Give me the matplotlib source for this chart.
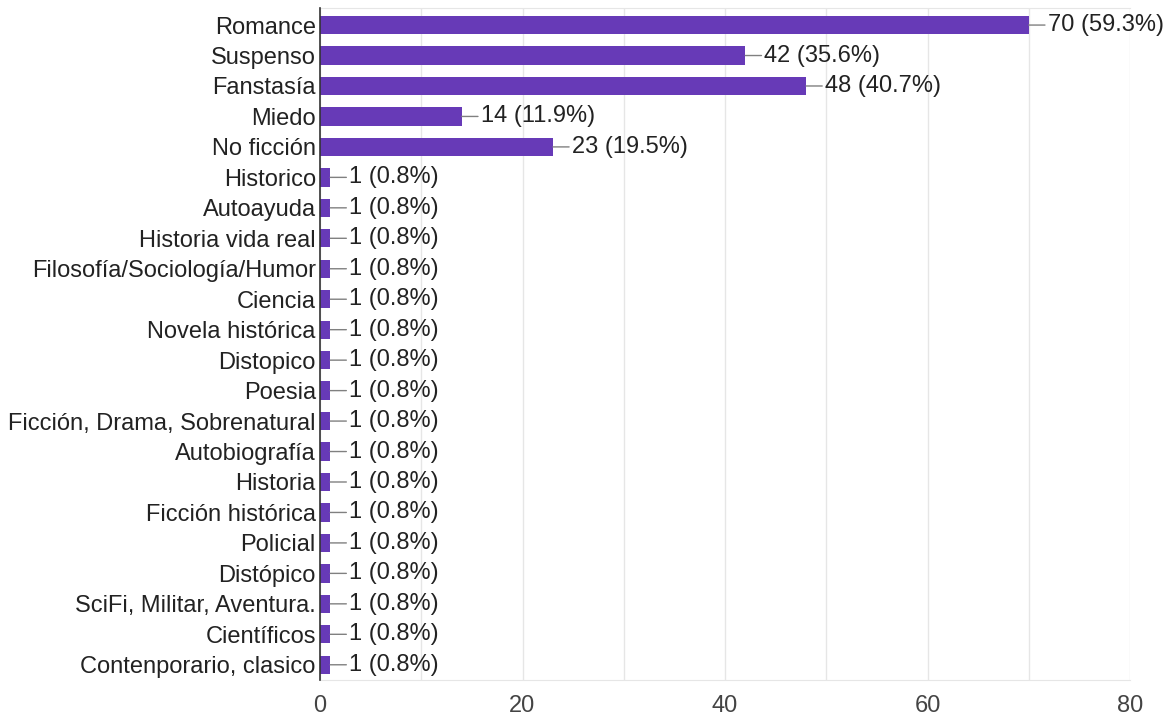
import matplotlib.pyplot as plt
import numpy as np

plt.rcParams['font.family'] = ['Liberation Sans', 'DejaVu Sans']

# genres, top to bottom
generos = ['Romance', 'Suspenso', 'Fanstasía', 'Miedo', 'No ficción',
           'Historico', 'Autoayuda', 'Historia vida real',
           'Filosofía/Sociología/Humor', 'Ciencia', 'Novela histórica',
           'Distopico', 'Poesia', 'Ficción, Drama, Sobrenatural',
           'Autobiografía', 'Historia', 'Ficción histórica', 'Policial',
           'Distópico', 'SciFi, Militar, Aventura.', 'Científicos',
           'Contenporario, clasico']
votos = [70, 42, 48, 14, 23, 1, 1, 1, 1, 1, 1, 1, 1, 1, 1, 1, 1, 1, 1, 1, 1, 1]
porcentajes = ['59.3', '35.6', '40.7', '11.9', '19.5'] + ['0.8'] * 17

fig = plt.figure(figsize=(11.68, 7.19), dpi=100)
ax = fig.add_axes([320 / 1168, 1 - 680 / 719, 810 / 1168, 672 / 719])

y = np.arange(len(generos))
ax.barh(y, votos, height=0.6, color='#673ab7', zorder=3)

for i, (v, p) in enumerate(zip(votos, porcentajes)):
    ax.annotate(f'{v} ({p}%)', xy=(v, i), xytext=(19, 0),
                textcoords='offset pixels', va='center', ha='left',
                fontsize=17, color='#222222',
                arrowprops=dict(arrowstyle='-', color='#808080', lw=1,
                                shrinkA=0, shrinkB=0))

ax.set_xlim(0, 80)
ax.set_ylim(len(generos) - 0.5, -0.56)
ax.set_yticks(y)
ax.set_yticklabels(generos, fontsize=17, color='#222222')
ax.set_xticks([0, 20, 40, 60, 80])
ax.set_xticks([10, 30, 50, 70], minor=True)
ax.tick_params(axis='x', which='both', length=0, labelsize=17,
               labelcolor='#444444', pad=11)
ax.tick_params(axis='y', length=0, pad=3)
ax.grid(axis='x', which='both', color='#e6e6e6', lw=1, zorder=0)

for s in ['top', 'bottom', 'right']:
    ax.spines[s].set_color('#e6e6e6')
ax.spines['right'].set_visible(False)
ax.spines['left'].set_color('#333333')
ax.spines['left'].set_linewidth(1.2)
ax.spines['left'].set_zorder(4)

fig.savefig('out.png', dpi=100)
